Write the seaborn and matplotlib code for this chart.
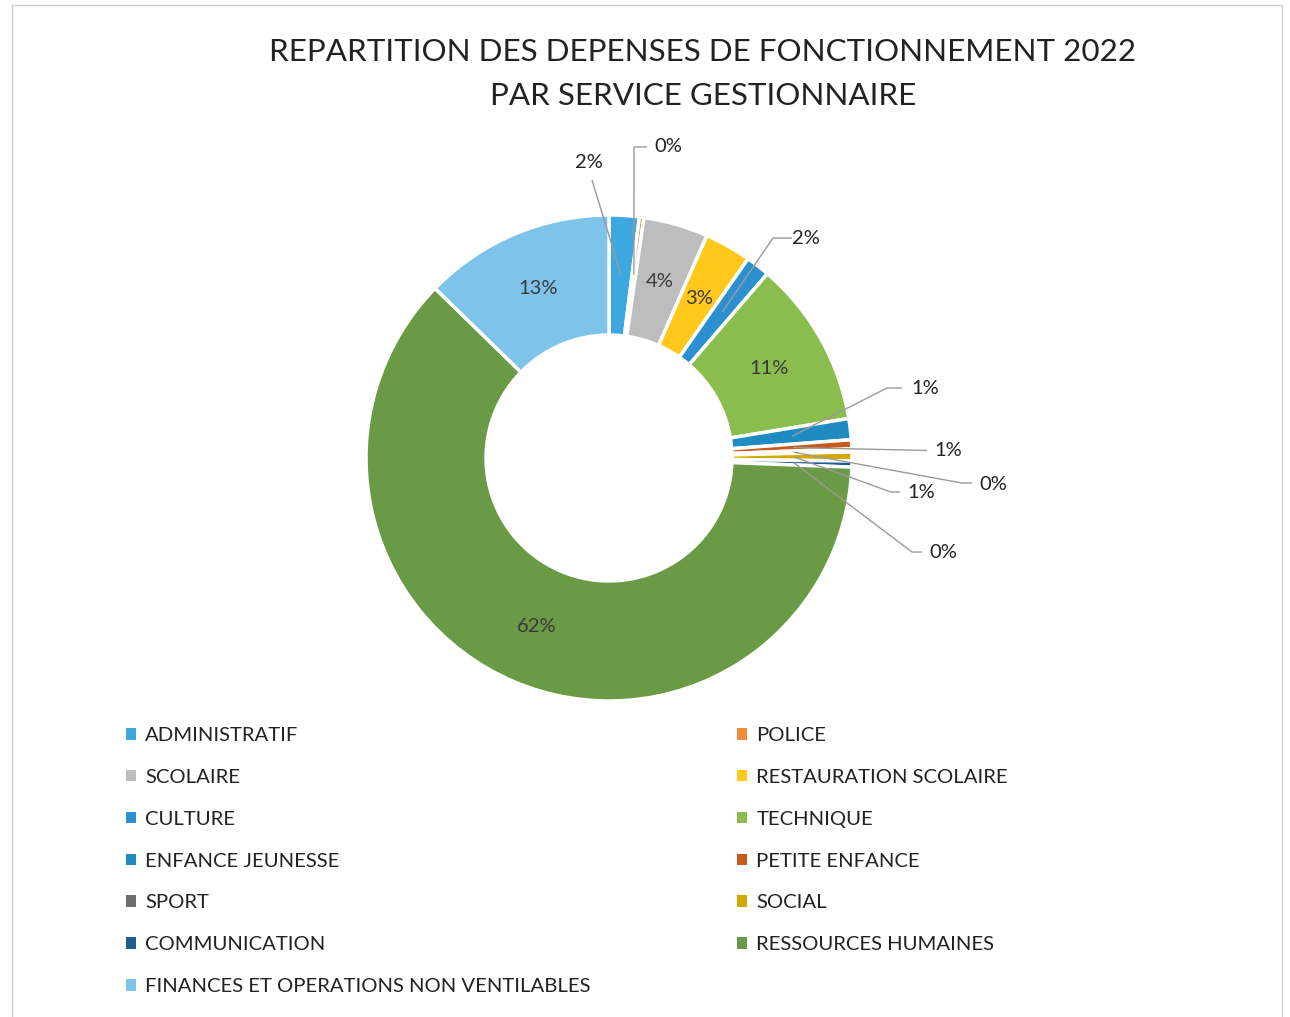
import matplotlib
matplotlib.use("Agg")
import matplotlib.pyplot as plt
from matplotlib.patches import Patch
from matplotlib.lines import Line2D
import numpy as np
import seaborn as sns

# Operating expenses 2022 by managing department (share of total, %)
services = [
    "ADMINISTRATIF", "POLICE", "SCOLAIRE", "RESTAURATION SCOLAIRE", "CULTURE",
    "TECHNIQUE", "ENFANCE JEUNESSE", "PETITE ENFANCE", "SPORT", "SOCIAL",
    "COMMUNICATION", "RESSOURCES HUMAINES", "FINANCES ET OPERATIONS NON VENTILABLES",
]
shares = [2.0, 0.3, 4.3, 3.1, 1.6, 11.1, 1.4, 0.6, 0.2, 0.6, 0.4, 61.7, 12.7]
colors = [
    "#3DA8DF", "#F08A3C", "#BDBDBD", "#FFC81A", "#2C8FD0", "#8BBD4E", "#1E8BC3",
    "#C55A1C", "#6E6E6E", "#D3A800", "#1F5C8F", "#6A9A45", "#7DC3EA",
]
title = "REPARTITION DES DEPENSES DE FONCTIONNEMENT 2022\nPAR SERVICE GESTIONNAIRE"

sns.set_theme(style="white")
plt.rcParams["font.family"] = ["Lato", "DejaVu Sans"]

W, H = 1290, 1017
fig = plt.figure(figsize=(W / 100, H / 100), dpi=100)
fig.patch.set_facecolor("white")

# square axes around the ring centre
cx, cy, R, box = 609, 458, 243, 300
ax = fig.add_axes([(cx - box) / W, (H - cy - box) / H, 2 * box / W, 2 * box / H])
wedges, _ = ax.pie(
    shares, colors=colors, startangle=90, counterclock=False, radius=1.0,
    wedgeprops=dict(width=0.494, edgecolor="white", linewidth=2.5),
)
lim = box / R
ax.set_xlim(-lim, lim)
ax.set_ylim(-lim, lim)
ax.set_aspect("equal")
ax.axis("off")

total = sum(shares)
pct_labels = [f"{round(v / total * 100):.0f}%" for v in shares]
lbl_size = 14.5
r_mid = 0.755

def anchor(i, r=r_mid):
    w = wedges[i]
    a = np.deg2rad((w.theta1 + w.theta2) / 2)
    return r * np.cos(a), r * np.sin(a)

# labels placed inside the larger slices
for i in [2, 3, 5, 11, 12]:
    x, y = anchor(i)
    ax.text(x, y, pct_labels[i], ha="center", va="center",
            fontsize=lbl_size, color="#3A3A3A")

# callouts with leader lines for the thin slices
callouts = {
    0: ((-0.082, 1.218), [(-0.07, 1.144)]),
    1: ((0.243, 1.28), [(0.156, 1.28), (0.103, 1.28)]),
    4: ((0.811, 0.905), [(0.753, 0.905), (0.675, 0.905)]),
    6: ((1.30, 0.288), [(1.206, 0.288), (1.144, 0.288)]),
    7: ((1.395, 0.031), [(1.309, 0.031)]),
    8: ((1.58, -0.107), [(1.494, -0.103), (1.453, -0.103)]),
    9: ((1.284, -0.144), [(1.198, -0.14), (1.16, -0.14)]),
    10: ((1.374, -0.387), [(1.288, -0.387), (1.247, -0.387)]),
}
for i, (txy, pts) in callouts.items():
    path = pts + [anchor(i, 0.76)]
    xs, ys = zip(*path)
    ax.plot(xs, ys, color="#9A9A9A", lw=1.0, solid_capstyle="butt",
            zorder=3, clip_on=False)
    ax.text(txy[0], txy[1], pct_labels[i], ha="center", va="center",
            fontsize=lbl_size, color="#222222")

fig.text(703 / W, 1 - 74 / H, title, ha="center", va="center",
         fontsize=22.6, color="#222222", linespacing=1.7)

# legend laid out row by row in two columns
handles = [Patch(facecolor=c, edgecolor="none") for c in colors]
left_idx = list(range(0, len(services), 2))
right_idx = list(range(1, len(services), 2))
leg_kw = dict(loc="upper left", frameon=False, fontsize=14.6, handlelength=0.5,
              handleheight=0.5, handletextpad=0.45, labelspacing=1.225,
              borderpad=0, borderaxespad=0, labelcolor="#222222")
leg1 = fig.legend([handles[i] for i in left_idx], [services[i] for i in left_idx],
                  bbox_to_anchor=(126 / W, 1 - 727 / H), **leg_kw)
leg2 = fig.legend([handles[i] for i in right_idx], [services[i] for i in right_idx],
                  bbox_to_anchor=(737 / W, 1 - 727 / H), **leg_kw)

# page frame
frame = dict(color="#CFCFCF", lw=1.0, transform=fig.transFigure)
fig.add_artist(Line2D([12 / W, 1282 / W], [1 - 5 / H, 1 - 5 / H], **frame))
fig.add_artist(Line2D([12 / W, 12 / W], [0, 1 - 5 / H], **frame))
fig.add_artist(Line2D([1282 / W, 1282 / W], [0, 1 - 5 / H], **frame))

fig.savefig("out.png", dpi=100)
